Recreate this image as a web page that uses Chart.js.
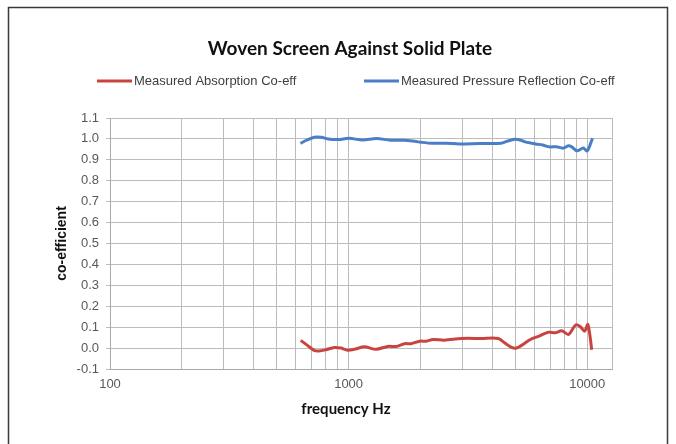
<!DOCTYPE html>
<html>
<head>
<meta charset="utf-8">
<script src="https://cdn.jsdelivr.net/npm/chart.js@4/dist/chart.umd.min.js"></script>
<style>
  html, body { margin: 0; padding: 0; background: #ffffff; }
  canvas { display: block; }
</style>
</head>
<body>
<canvas id="chart" width="676" height="444"></canvas>
<script>
// Text
const chartTitle = 'Woven Screen Against Solid Plate';
const xAxisTitle = 'frequency Hz';
const yAxisTitle = 'co-efficient';
const seriesNames = ['Measured Absorption Co-eff', 'Measured Pressure Reflection Co-eff'];

// Measured absorption coefficient (frequency in Hz, value)
const absFreq = [630, 672, 717, 752, 803, 871, 928, 990, 1056, 1164, 1303, 1459, 1582, 1715, 1829,
  1983, 2115, 2256, 2524, 2966, 3603, 4236, 4517, 4817, 5054, 5306, 5751, 6237, 6875, 7335, 7822,
  8343, 8955, 9340, 9745, 10066, 10447];
const absValue = [0.037, 0.013, -0.011, -0.014, -0.008, 0.003, 0.000, -0.010, -0.006, 0.006, -0.006,
  0.008, 0.008, 0.021, 0.021, 0.033, 0.033, 0.041, 0.038, 0.046, 0.046, 0.046, 0.024, 0.003, 0.000,
  0.013, 0.040, 0.056, 0.076, 0.073, 0.083, 0.065, 0.111, 0.103, 0.081, 0.113, -0.008];

// Measured pressure reflection coefficient (frequency in Hz, value)
const reflFreq = [628, 671, 718, 768, 820, 907, 1002, 1146, 1309, 1496, 1710, 1857, 2018, 2233, 2552,
  2914, 3562, 4352, 4647, 4969, 5224, 5493, 6073, 6493, 6941, 7418, 7925, 8334, 8611, 9057, 9622,
  10005, 10520];
const reflValue = [0.979, 0.995, 1.008, 1.008, 1.000, 0.997, 1.003, 0.995, 1.002, 0.994, 0.994, 0.990,
  0.984, 0.979, 0.979, 0.976, 0.978, 0.979, 0.990, 0.998, 0.995, 0.986, 0.976, 0.971, 0.962, 0.963,
  0.956, 0.967, 0.962, 0.943, 0.956, 0.943, 1.003];

// Axes
const xGridValues = [100, 200, 300, 400, 500, 600, 700, 800, 900,
  1000, 2000, 3000, 4000, 5000, 6000, 7000, 8000, 9000, 10000];
const xLabelValues = [100, 1000, 10000];
const xMin = 100;
const xMax = 12700;
const yMin = -0.1;
const yMax = 1.1;
const yStep = 0.1;

const RED = '#C9443F';
const BLUE = '#4A7EC6';
const GRID = '#bcbcbc';
const TICK_TEXT = '#595959';

function points(xs, ys) {
  return xs.map((x, i) => ({ x: x, y: ys[i] }));
}

// Frame, title, legend and axis titles
const decorations = {
  id: 'decorations',
  beforeDraw(chart) {
    const c = chart.ctx;
    c.save();
    c.fillStyle = '#ffffff';
    c.fillRect(0, 0, chart.width, chart.height);
    c.restore();
  },
  afterDraw(chart) {
    const c = chart.ctx;
    const area = chart.chartArea;
    c.save();

    // outer frame
    c.strokeStyle = '#3a3a3a';
    c.lineWidth = 1.5;
    c.strokeRect(8.5, 7.5, 659, 460);

    // title
    c.fillStyle = '#111111';
    c.font = 'bold 19px Lato, "Liberation Sans", sans-serif';
    c.textAlign = 'center';
    c.textBaseline = 'middle';
    c.fillText(chartTitle, 350, 49);

    // legend
    const legendY = 81;
    const items = [
      { x: 97, color: chart.data.datasets[0].borderColor, text: chart.data.datasets[0].label },
      { x: 364, color: chart.data.datasets[1].borderColor, text: chart.data.datasets[1].label }
    ];
    c.font = '13px "Liberation Sans", Arial, sans-serif';
    c.textAlign = 'left';
    items.forEach(it => {
      c.strokeStyle = it.color;
      c.lineWidth = 3;
      c.beginPath();
      c.moveTo(it.x, legendY);
      c.lineTo(it.x + 35, legendY);
      c.stroke();
      c.fillStyle = '#404040';
      c.fillText(it.text, it.x + 37, legendY);
    });

    // x axis title
    c.fillStyle = '#111111';
    c.font = 'bold 15px Lato, "Liberation Sans", sans-serif';
    c.textAlign = 'center';
    c.fillText(xAxisTitle, 346, 409);

    // y axis title
    c.translate(62.5, (area.top + area.bottom) / 2);
    c.rotate(-Math.PI / 2);
    c.font = 'bold 14px "Liberation Sans", Arial, sans-serif';
    c.fillText(yAxisTitle, 0, 0);

    c.restore();
  }
};

new Chart(document.getElementById('chart'), {
  type: 'line',
  data: {
    datasets: [
      {
        label: seriesNames[0],
        data: points(absFreq, absValue),
        borderColor: RED,
        borderWidth: 3,
        pointRadius: 0,
        tension: 0.3,
        fill: false
      },
      {
        label: seriesNames[1],
        data: points(reflFreq, reflValue),
        borderColor: BLUE,
        borderWidth: 3,
        pointRadius: 0,
        tension: 0.3,
        fill: false
      }
    ]
  },
  options: {
    responsive: false,
    animation: false,
    devicePixelRatio: 1,
    layout: { padding: { left: 70, top: 118, right: 64, bottom: 45 } },
    plugins: {
      legend: { display: false },
      title: { display: false },
      tooltip: { enabled: false }
    },
    scales: {
      x: {
        type: 'logarithmic',
        min: xMin,
        max: xMax,
        afterBuildTicks(scale) {
          scale.ticks = xGridValues.concat([xMax]).map(v => ({ value: v }));
        },
        afterFit(scale) { scale.height = 30; },
        ticks: {
          autoSkip: false,
          maxRotation: 0,
          padding: 8,
          color: TICK_TEXT,
          font: { family: '"Liberation Sans", Arial, sans-serif', size: 13 },
          callback(value) {
            return xLabelValues.includes(value) ? String(value) : '';
          }
        },
        grid: { color: GRID, lineWidth: 1, drawTicks: false },
        border: { color: '#a8a8a8', width: 1 }
      },
      y: {
        min: yMin,
        max: yMax,
        afterFit(scale) { scale.width = 40; },
        ticks: {
          stepSize: yStep,
          padding: 7,
          color: TICK_TEXT,
          font: { family: '"Liberation Sans", Arial, sans-serif', size: 13 },
          callback(value) { return value.toFixed(1); }
        },
        grid: { color: GRID, lineWidth: 1, tickLength: 4 },
        border: { color: '#a8a8a8', width: 1 }
      }
    }
  },
  plugins: [decorations]
});
</script>
</body>
</html>
